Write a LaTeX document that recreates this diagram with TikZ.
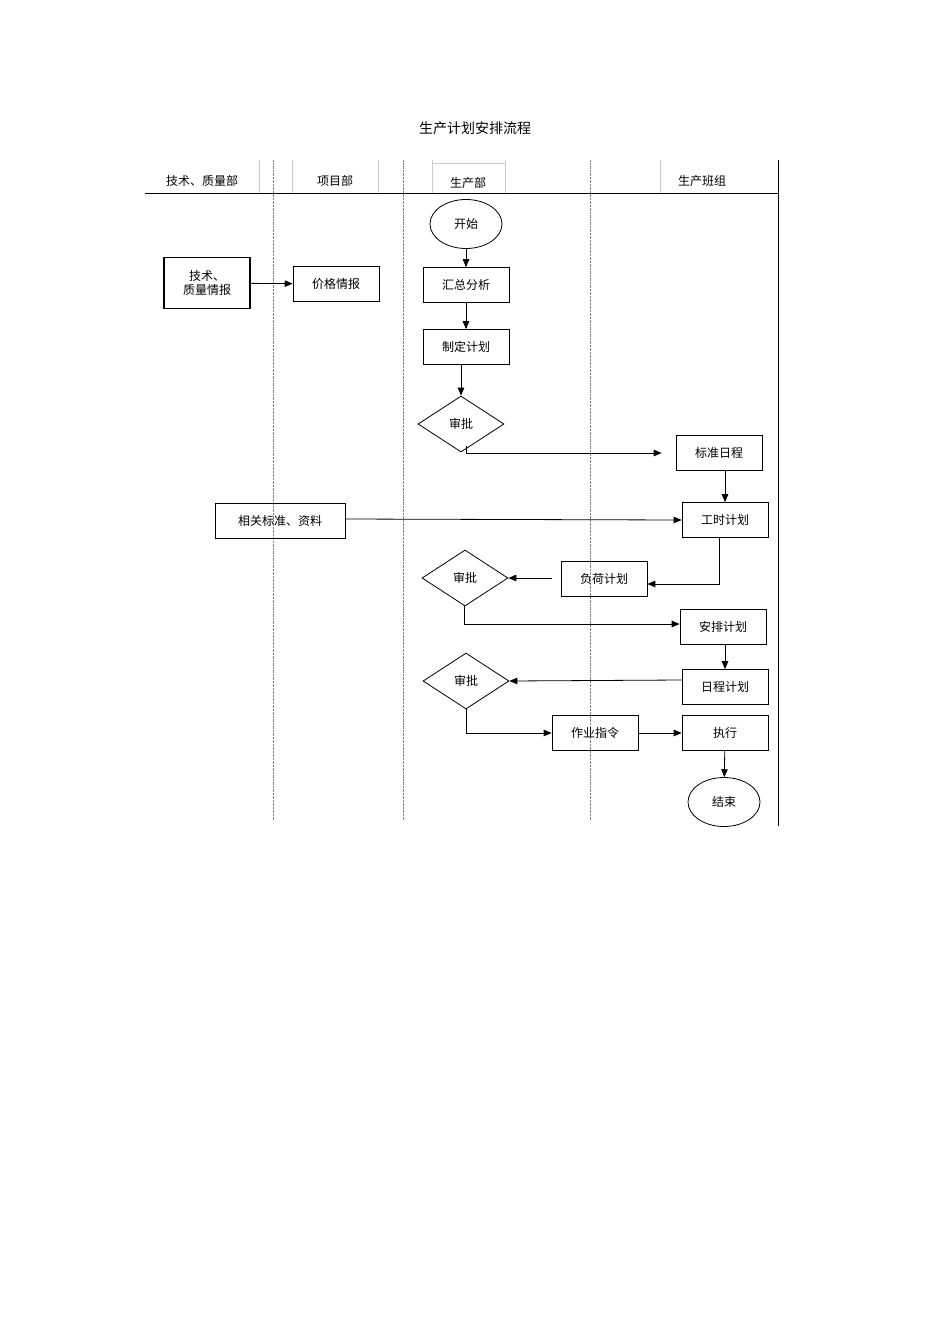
\documentclass[tikz,border=0pt]{standalone}
\usepackage{fontspec}
\setmainfont{Liberation Serif}
\newfontfamily\cjk{Noto Sans CJK SC}
\usetikzlibrary{arrows, positioning, shapes, calc}

\begin{document}
\begin{tikzpicture}[x=1pt, y=-1pt,
    task/.style={rectangle, draw, thick, minimum width=86pt, minimum height=35pt, text centered, font=\cjk\fontsize{12}{14}\selectfont},
    check/.style={diamond, draw, thick, minimum width=86pt, minimum height=56pt, aspect=1.5, inner sep=0pt, font=\cjk\fontsize{12}{14}\selectfont},
    term/.style={ellipse, draw, thick, minimum width=72pt, minimum height=49pt, font=\cjk\fontsize{12}{14}\selectfont},
    lane/.style={font=\cjk\fontsize{12}{14}\selectfont},
    flow/.style={->, >=triangle 45, thick}
]
\useasboundingbox (0,0) rectangle (950,1344);

% Title and lanes
\node[lane, font=\cjk\fontsize{14}{16}\selectfont] (title) at (475,128) {生产计划安排流程};
\foreach \x in {259, 292, 378, 432, 505, 660}
    \draw[gray!40] (\x,160) -- (\x,193);
\draw[gray!40] (432,163) -- (505,163);
\foreach \x in {273, 403, 590}
    \draw[densely dotted, gray] (\x,160) -- (\x,820);
\draw[thick] (145,193) -- (778,193);
\draw[thick] (778,160) -- (778,826);
\node[lane] (h1) at (202,181) {技术、质量部};
\node[lane] (h2) at (335,181) {项目部};
\node[lane] (h3) at (468,183) {生产部};
\node[lane] (h4) at (702,181) {生产班组};

% Nodes
\node[term] (start) at (466,224) {开始};
\node[task] (sum) at (466,285) {汇总分析};
\node[task] (plan) at (466,347) {制定计划};
\node[check] (ok1) at (461,424) {审批};
\node[task] (std) at (719,453) {标准日程};
\node[task, very thick, minimum height=51pt, align=center] (tech) at (207,283) {技术、\\质量情报};
\node[task] (price) at (336,284) {价格情报};
\node[task, minimum width=130pt] (ref) at (280,521) {相关标准、资料};
\node[task] (hour) at (725,520) {工时计划};
\node[task] (load) at (604,579) {负荷计划};
\node[check] (ok2) at (465,578) {审批};
\node[task] (arr) at (723,627) {安排计划};
\node[check] (ok3) at (466,681) {审批};
\node[task] (sched) at (725,687) {日程计划};
\node[task] (order) at (595,733) {作业指令};
\node[task] (exec) at (725,733) {执行};
\node[term] (stop) at (724,802) {结束};

% Connectors
\draw[flow] (start) -- (sum);
\draw[flow] (sum) -- (plan);
\draw[flow] ($(plan.south)+(-5,0)$) -- (ok1.north);
\draw[flow] ($(ok1.south)+(5,-6)$) |- ($(std.west)+(-14,0)$);
\draw[flow] (tech) -- (price);
\draw[flow] ($(std.south)+(6,0)$) -- (hour.north);
\draw[flow] ($(ref.east)+(0,-2)$) -- (hour.west);
\draw[flow] ($(hour.south)+(-6,0)$) |- ($(load.east)+(0,5)$);
\draw[flow] ($(load.west)+(-9,-1)$) -- (ok2.east);
\draw[flow] ($(ok2.south)+(-1,0)$) |- ($(arr.west)+(0,-3)$);
\draw[flow] ($(arr.south)+(2,0)$) -- (sched.north);
\draw[flow] ($(sched.west)+(0,-7)$) -- (ok3.east);
\draw[flow] (ok3.south) |- (order.west);
\draw[flow] (order) -- (exec);
\draw[flow] (exec) -- (stop);
\end{tikzpicture}
\end{document}
